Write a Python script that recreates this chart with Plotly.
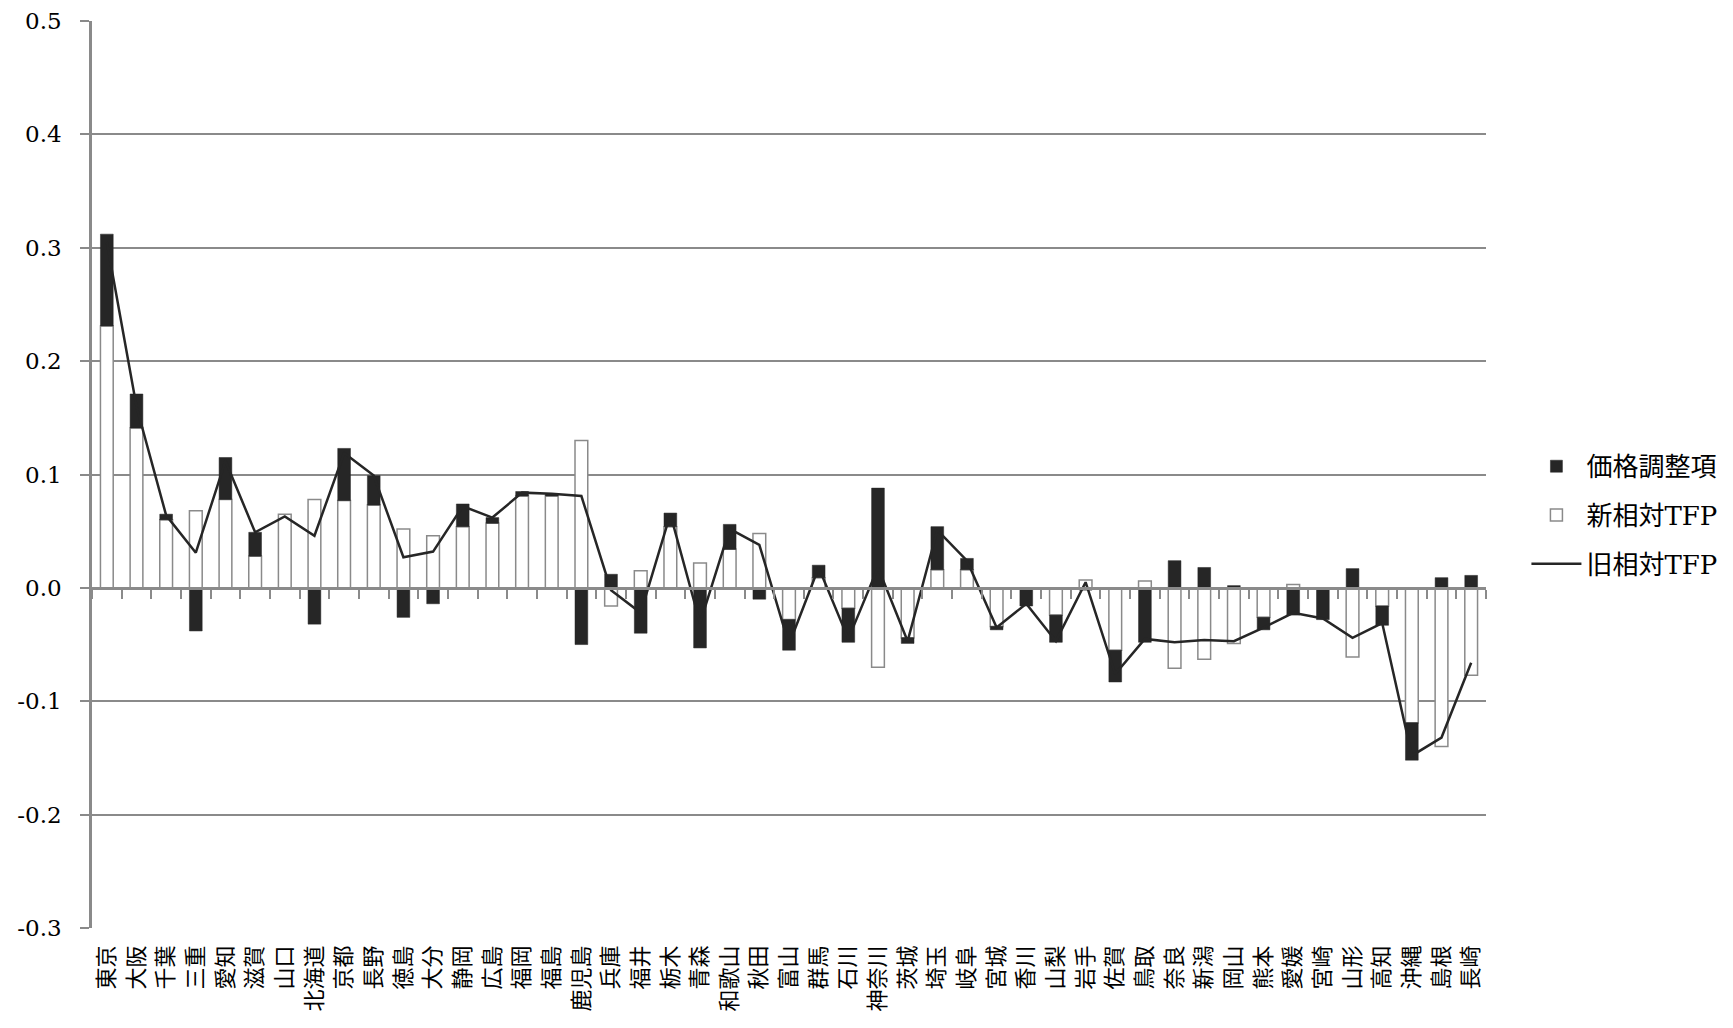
import plotly.graph_objects as go

# prefectures, in chart order
prefs = ['東京', '大阪', '千葉', '三重', '愛知', '滋賀', '山口', '北海道', '京都', '長野',
         '徳島', '大分', '静岡', '広島', '福岡', '福島', '鹿児島', '兵庫', '福井', '栃木',
         '青森', '和歌山', '秋田', '富山', '群馬', '石川', '神奈川', '茨城', '埼玉', '岐阜',
         '宮城', '香川', '山梨', '岩手', '佐賀', '鳥取', '奈良', '新潟', '岡山', '熊本',
         '愛媛', '宮崎', '山形', '高知', '沖縄', '島根', '長崎']

# 新相対TFP
new_tfp = [0.231, 0.141, 0.060, 0.068, 0.078, 0.028, 0.065, 0.078, 0.077, 0.073,
           0.052, 0.046, 0.054, 0.057, 0.081, 0.081, 0.130, -0.016, 0.015, 0.054,
           0.022, 0.034, 0.048, -0.028, 0.009, -0.018, -0.070, -0.044, 0.016, 0.016,
           -0.034, -0.001, -0.024, 0.007, -0.055, 0.006, -0.071, -0.063, -0.049, -0.026,
           0.003, -0.001, -0.061, -0.016, -0.119, -0.140, -0.077]

# 価格調整項
price_adj = [0.081, 0.030, 0.005, -0.038, 0.037, 0.021, -0.001, -0.032, 0.046, 0.026,
             -0.026, -0.014, 0.020, 0.005, 0.004, 0.002, -0.050, 0.012, -0.040, 0.012,
             -0.053, 0.022, -0.010, -0.027, 0.011, -0.030, 0.088, -0.005, 0.038, 0.010,
             -0.003, -0.015, -0.024, -0.002, -0.028, -0.048, 0.024, 0.018, 0.002, -0.011,
             -0.024, -0.027, 0.017, -0.017, -0.033, 0.009, 0.011]

# 旧相対TFP
old_tfp = [0.305, 0.160, 0.064, 0.031, 0.112, 0.049, 0.063, 0.046, 0.119, 0.099,
           0.027, 0.032, 0.072, 0.062, 0.084, 0.083, 0.081, -0.002, -0.022, 0.065,
           -0.031, 0.052, 0.038, -0.050, 0.018, -0.045, 0.018, -0.047, 0.051, 0.024,
           -0.035, -0.014, -0.047, 0.005, -0.076, -0.045, -0.048, -0.046, -0.047, -0.035,
           -0.022, -0.027, -0.044, -0.031, -0.148, -0.132, -0.066]

y_ticks = [-0.3, -0.2, -0.1, 0.0, 0.1, 0.2, 0.3, 0.4, 0.5]
y_tick_text = ['-0.3', '-0.2', '-0.1', '0.0', '0.1', '0.2', '0.3', '0.4', '0.5']

grey = '#8a8a8a'
dark = '#262626'
serif = "'DejaVu Serif', 'Noto Sans CJK JP'"
cat_range = [-0.5, len(prefs) - 0.5]

fig = go.Figure()
fig.add_trace(go.Bar(x=prefs, y=new_tfp, name='新相対TFP', legendrank=2, legendgroup='b',
                     marker=dict(color='white', line=dict(color=grey, width=1.5))))
fig.add_trace(go.Bar(x=prefs, y=price_adj, name='価格調整項', legendrank=1, legendgroup='a',
                     marker=dict(color=dark, line=dict(color=dark, width=0.5))))
fig.add_trace(go.Scatter(x=prefs, y=old_tfp, name='旧相対TFP', mode='lines', legendrank=3,
                         legendgroup='c', xaxis='x2', line=dict(color=dark, width=2.5)))

fig.update_layout(
    width=1733, height=1028,
    barmode='relative', bargap=0.57,
    plot_bgcolor='white', paper_bgcolor='white',
    margin=dict(l=84, r=255, t=13, b=108, autoexpand=False),
    font=dict(family=serif, size=23, color='#000'),
    legend=dict(x=1.029, y=0.455, xanchor='left', yanchor='middle',
                traceorder='grouped', font=dict(size=26), itemwidth=50,
                tracegroupgap=12),
    xaxis=dict(type='category', categoryorder='array', categoryarray=prefs,
               range=cat_range, automargin=False,
               tickangle=-90, ticks='', showline=False, showgrid=False,
               tickfont=dict(family="'Noto Sans CJK JP'", size=22),
               ticklabelstandoff=12),
    xaxis2=dict(type='category', categoryorder='array', categoryarray=prefs,
                range=cat_range, automargin=False,
                overlaying='x', anchor='free', position=0.375,
                showticklabels=False, showgrid=False,
                showline=True, linecolor=grey, linewidth=2.5,
                ticks='outside', tickson='boundaries', ticklen=9,
                tickcolor=grey, tickwidth=2),
    yaxis=dict(range=[-0.3, 0.5], tickvals=y_ticks, ticktext=y_tick_text,
               automargin=False,
               showgrid=True, gridcolor=grey, gridwidth=1.5, zeroline=False,
               showline=True, linecolor=grey, linewidth=2.5,
               ticks='outside', ticklen=9, tickcolor=grey, tickwidth=1.5,
               ticklabelstandoff=14),
)

fig.write_html("out.html")
